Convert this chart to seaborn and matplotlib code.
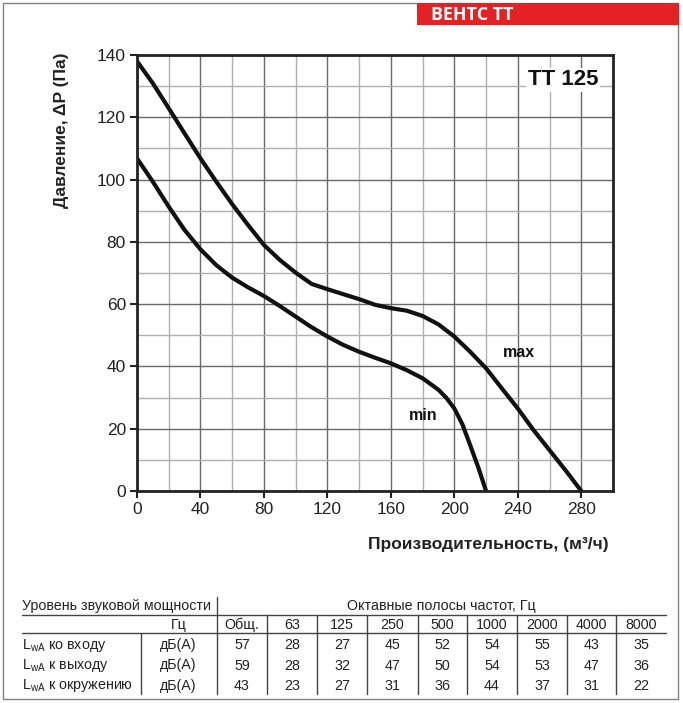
import matplotlib
matplotlib.use("Agg")
import matplotlib.pyplot as plt
from matplotlib.patches import Rectangle
from matplotlib.lines import Line2D
import seaborn as sns
import pandas as pd

# ---------------- data ----------------
flow_max = [0, 10, 20, 30, 40, 50, 60, 70, 80, 90, 100, 110, 120, 130, 140, 150,
            160, 170, 180, 190, 200, 210, 220, 230, 240, 250, 260, 270, 280]
p_max = [138, 130.9, 122.9, 114.8, 106.8, 99.3, 92.1, 85.4, 79, 74.2, 70.1, 66.5,
         64.8, 63.2, 61.6, 59.8, 58.7, 57.9, 56.2, 53.5, 49.6, 44.7, 39.4, 32.9,
         26.5, 19.5, 13.1, 6.7, 0]
flow_min = [0, 10, 20, 30, 40, 50, 60, 70, 80, 90, 100, 110, 120, 130, 140, 150,
            160, 170, 180, 190, 195, 200, 205, 210, 215, 220]
p_min = [106.8, 99.3, 91.3, 83.8, 77.6, 72.5, 68.5, 65.4, 62.6, 59.4, 56, 52.6,
         49.6, 46.9, 44.7, 42.8, 41, 38.8, 36.2, 32.5, 29.9, 26.5, 21.5, 14.7, 7.7, 0]

x_ticks = [0, 40, 80, 120, 160, 200, 240, 280]
y_ticks = [0, 20, 40, 60, 80, 100, 120, 140]

bands = ["Общ.", "63", "125", "250", "500", "1000", "2000", "4000", "8000"]
row_labels = ["ко входу", "к выходу", "к окружению"]
row_unit = "дБ(А)"
lw_inlet = [57, 28, 27, 45, 52, 54, 55, 43, 35]
lw_outlet = [59, 28, 32, 47, 50, 54, 53, 47, 36]
lw_surround = [43, 23, 27, 31, 36, 44, 37, 31, 22]

W, H = 683, 703

sns.set_style("ticks")
plt.rcParams["font.family"] = ["Liberation Sans", "DejaVu Sans"]
plt.rcParams["mathtext.fontset"] = "custom"
plt.rcParams["mathtext.rm"] = "Liberation Sans"
plt.rcParams["mathtext.it"] = "Liberation Sans"

fig = plt.figure(figsize=(W / 100, H / 100), dpi=100)
fig.patch.set_facecolor("white")


def fx(x):
    return x / W


def fy(y):
    return 1 - y / H


ax = fig.add_axes([fx(137), fy(491), (613 - 137) / W, (491 - 55) / H])

df_max = pd.DataFrame({"flow": flow_max, "p": p_max})
df_min = pd.DataFrame({"flow": flow_min, "p": p_min})
sns.lineplot(data=df_max, x="flow", y="p", ax=ax, color="#111111", lw=3.0,
             solid_capstyle="round", solid_joinstyle="round", zorder=5)
sns.lineplot(data=df_min, x="flow", y="p", ax=ax, color="#111111", lw=3.0,
             solid_capstyle="round", solid_joinstyle="round", zorder=5)

ax.set_xlim(0, 300)
ax.set_ylim(0, 140)
ax.set_xticks(x_ticks)
ax.set_yticks(y_ticks)
ax.set_xticks(list(range(20, 300, 40)), minor=True)
ax.set_yticks(list(range(10, 140, 20)), minor=True)
ax.grid(which="major", color="#6a6a6a", lw=1.0)
ax.grid(which="minor", color="#b0b0b0", lw=1.0)
ax.tick_params(which="major", direction="out", length=5, width=1.5,
               color="#222222", labelsize=12.5, labelcolor="#222222", pad=3)
ax.tick_params(which="minor", length=0)
for s in ax.spines.values():
    s.set_visible(True)
    s.set_color("#222222")
    s.set_linewidth(2.0)
    s.set_zorder(6)

ax.set_xlabel("Производительность, (м³/ч)", fontsize=12.5, fontweight="bold",
              color="#222222", loc="right")
ax.xaxis.set_label_coords(0.99, -0.105)
ax.set_ylabel("Давление, ΔP (Па)", fontsize=12.5, fontweight="bold",
              color="#222222", loc="top")
ax.yaxis.set_label_coords(-0.142, 1.005)

ax.text(268.5, 132, "ТТ 125", fontsize=16, fontweight="bold", ha="center",
        va="center", color="#111111", zorder=7,
        bbox=dict(facecolor="white", edgecolor="none", pad=1.0))
ax.text(240.6, 44.4, "max", fontsize=11.5, fontweight="bold", ha="center",
        va="center", color="#111111", zorder=7)
ax.text(180.6, 24.4, "min", fontsize=11.5, fontweight="bold", ha="center",
        va="center", color="#111111", zorder=7)

# outer border and header
fig.patches.append(Rectangle((fx(3), fy(699)), fx(678) - fx(3), fy(3) - fy(699),
                             transform=fig.transFigure, fill=False,
                             edgecolor="#808080", lw=1.0))
fig.patches.append(Rectangle((fx(417), fy(25)), fx(679) - fx(417), fy(3) - fy(25),
                             transform=fig.transFigure, facecolor="#E42226",
                             edgecolor="none"))
fig.text(fx(431), fy(14.5), "ВЕНТС ТТ", fontsize=12.8, fontweight="bold",
         color="white", ha="left", va="center", family=["Open Sans", "DejaVu Sans"])

# ---------------- table ----------------
tc = "#222222"


def hline(x0, x1, y, lw=1.0):
    fig.lines.append(Line2D([fx(x0), fx(x1)], [fy(y), fy(y)], transform=fig.transFigure,
                            color="#444444", lw=lw))


def vline(x, y0, y1, lw=1.0):
    fig.lines.append(Line2D([fx(x), fx(x)], [fy(y0), fy(y1)], transform=fig.transFigure,
                            color="#444444", lw=lw))


seps = [217, 267, 317, 367.5, 417.5, 467, 517, 567, 616, 666]
centers = [(seps[i] + seps[i + 1]) / 2 for i in range(len(seps) - 1)]
row_y = [645, 665.5, 686]
fs = 10.3

hline(22, 666, 615)
hline(22, 666, 633)
vline(217, 597, 694)
for s in seps[1:-1]:
    vline(s, 615, 694)
vline(140.5, 633, 694)

fig.text(fx(22), fy(606), "Уровень звуковой мощности", fontsize=fs, color=tc,
         ha="left", va="center")
fig.text(fx((217 + 666) / 2), fy(606), "Октавные полосы частот, Гц", fontsize=fs,
         color=tc, ha="center", va="center")
fig.text(fx(187), fy(625), "Гц", fontsize=fs, color=tc, ha="right", va="center")
for c, b in zip(centers, bands):
    fig.text(fx(c), fy(625), b, fontsize=fs, color=tc, ha="center", va="center")

for ry, lab, vals in zip(row_y, row_labels, [lw_inlet, lw_outlet, lw_surround]):
    fig.text(fx(22), fy(ry), r"L$_{\mathrm{wA}}$ " + lab, fontsize=fs, color=tc,
             ha="left", va="center")
    fig.text(fx(196), fy(ry), row_unit, fontsize=fs, color=tc, ha="right", va="center")
    for c, v in zip(centers, vals):
        fig.text(fx(c), fy(ry), str(v), fontsize=fs, color=tc, ha="center", va="center")

fig.savefig("out.png", dpi=100)
